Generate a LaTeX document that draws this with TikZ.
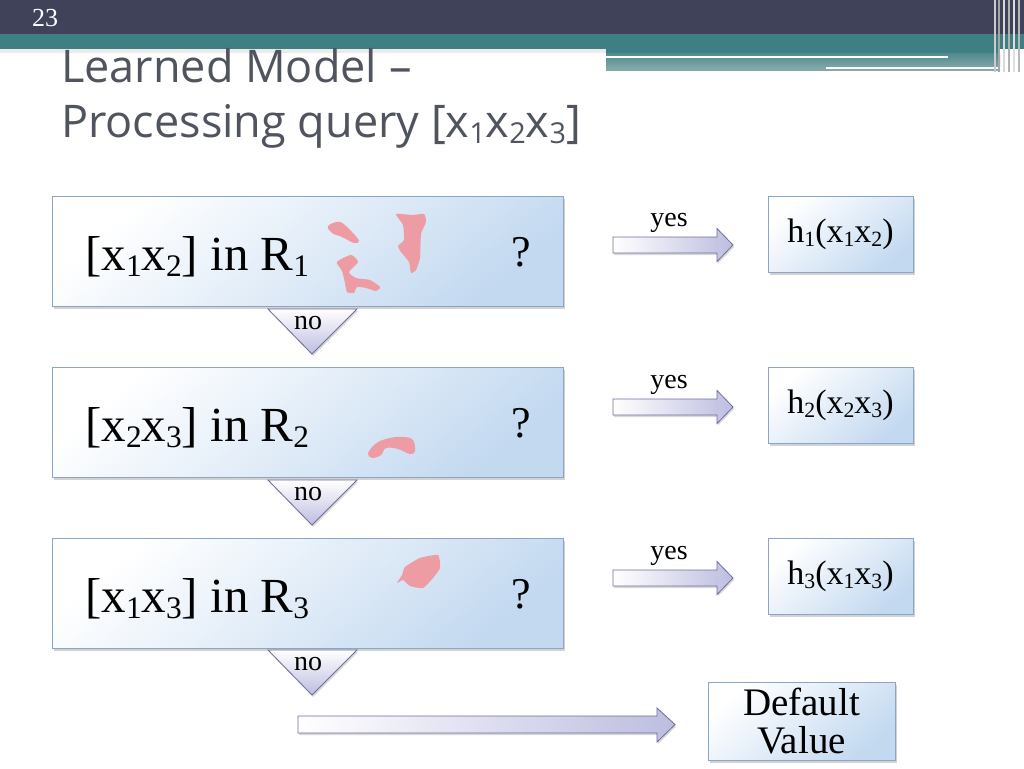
\documentclass[tikz,border=0pt]{standalone}
\usepackage{fontspec}
\usepackage{graphicx}
\setmainfont{Liberation Serif}
\newfontfamily\titlefont{Open Sans}
\usetikzlibrary{shadows}
\definecolor{barDark}{HTML}{40425A}
\definecolor{barTeal}{HTML}{3E7F84}
\definecolor{tealLight}{HTML}{86AAAC}
\definecolor{titleGray}{HTML}{50545E}
\definecolor{boxBlue}{HTML}{C3D9F0}
\definecolor{boxEdge}{HTML}{8AA6C4}
\definecolor{arrowFill}{HTML}{BDBDE0}
\definecolor{arrowEdge}{HTML}{6E6E9A}
\definecolor{blobPink}{HTML}{EE9CA4}
\newcommand{\sbs}[1]{\raisebox{-0.14em}{\scalebox{0.64}{#1}}}
\tikzset{
  bigbox/.style={draw=boxEdge, line width=1pt, top color=white, bottom color=boxBlue, shading angle=40,
    minimum width=511pt, minimum height=110pt, inner sep=0pt,
    drop shadow={shadow xshift=1.5pt, shadow yshift=-2.5pt, opacity=0.35}},
  smallbox/.style={draw=boxEdge, line width=0.8pt, top color=white, bottom color=boxBlue, shading angle=40,
    inner sep=0pt, font=\fontsize{34}{38}\selectfont,
    drop shadow={shadow xshift=1.5pt, shadow yshift=-2.5pt, opacity=0.35}},
  boxtext/.style={anchor=base west, inner sep=0pt, font=\fontsize{49}{56}\selectfont},
  qmark/.style={anchor=base west, inner sep=0pt, font=\fontsize{44}{50}\selectfont},
  smalllabel/.style={anchor=base, inner sep=0pt, font=\fontsize{28}{32}\selectfont},
  blockarrow/.style={draw=arrowEdge, line width=0.8pt, left color=white, right color=arrowFill,
    drop shadow={shadow xshift=1pt, shadow yshift=-2pt, opacity=0.3}},
  notri/.style={draw=arrowEdge, line width=0.8pt, top color=white, bottom color=arrowFill,
    drop shadow={shadow xshift=1pt, shadow yshift=-2pt, opacity=0.3}},
  blob/.style={fill=blobPink, draw=none},
}
\begin{document}
\begin{tikzpicture}[x=1pt, y=-1pt]
\useasboundingbox (0,0) rectangle (1024,768);
\fill[white] (0,0) rectangle (1024,768);
% header
\fill[barDark] (0,0) rectangle (1024,34);
\fill[barTeal] (0,34) rectangle (1024,49);
\fill[barTeal] (606,34) rectangle (1000,54);
\shade[top color=barTeal!70!tealLight, bottom color=tealLight] (606,54) rectangle (1000,70);
\fill[black, opacity=0.08] (0,49) rectangle (606,53);
\draw[white, line width=2.5pt] (606,57) -- (948,57);
\draw[white, line width=2.5pt] (826,68) -- (1005,68);
\foreach \xx/\cc in {994/gray!40, 998/gray!70, 1003/gray!30, 1008/gray!60, 1013/gray!25, 1018/gray!55}
  \fill[\cc] (\xx,0) rectangle (\xx+2,72);
\node[text=white, anchor=base west, inner sep=0pt, font=\fontsize{26}{28}\selectfont] (pgnum) at (32,27) {23};
% title
\node[text=titleGray, anchor=base west, inner sep=0pt, font=\titlefont\fontsize{45}{50}\selectfont] (title1) at (61,82) {Learned Model –};
\node[text=titleGray, anchor=base west, inner sep=0pt, font=\titlefont\fontsize{45}{50}\selectfont] (title2) at (61,137) {Processing query [x\sbs{1}x\sbs{2}x\sbs{3}]};
% big boxes
\node[bigbox] (b1) at (307.5,251) {};
\node[bigbox] (b2) at (307.5,422) {};
\node[bigbox] (b3) at (307.5,593) {};
\node[boxtext] (t1) at (85,270) {[x\sbs{1}x\sbs{2}] in R\sbs{1}};
\node[boxtext] (t2) at (85,441) {[x\sbs{2}x\sbs{3}] in R\sbs{2}};
\node[boxtext] (t3) at (85,612) {[x\sbs{1}x\sbs{3}] in R\sbs{3}};
\node[qmark] (q1) at (511,266) {?};
\node[qmark] (q2) at (511,437) {?};
\node[qmark] (q3) at (511,608) {?};
% blobs
\fill[blob] plot[smooth cycle, tension=0.6] coordinates {(328,226) (340,222) (352,232) (359,241) (354,243) (342,237) (332,233)};
\fill[blob] plot[smooth cycle, tension=0.4] coordinates {(337,262) (351,255) (358,262) (349,272) (356,278) (370,280) (380,287) (376,291) (366,288) (357,287) (354,293) (347,292) (345,283) (342,271)};
\fill[blob] plot[smooth cycle, tension=0.3] coordinates {(396,214) (412,215) (424,214) (426,222) (421,234) (420,258) (416,270) (411,273) (409,262) (401,252) (398,246) (404,240) (403,225)};
\fill[blob] plot[smooth cycle, tension=0.6] coordinates {(368,453) (378,442) (396,437) (412,439) (415,451) (410,454) (398,449) (386,448) (381,455) (372,458)};
\fill[blob] plot[smooth cycle, tension=0.3] coordinates {(405,567) (420,558) (438,555) (440,568) (433,578) (423,588) (410,586) (403,580) (397,583) (402,575)};
% no triangles
\foreach \r/\ty in {1/309, 2/480, 3/650} {
  \path[notri] (268,\ty) -- (357,\ty) -- (312,\ty+45) -- cycle;
  \node[smalllabel] (no\r) at (308,\ty+20) {no};
}
% yes arrows
\foreach \r/\cy in {1/245, 2/407, 3/578} {
  \path[blockarrow] (613,\cy-8) -- (717,\cy-8) -- (717,\cy-16.5) -- (733,\cy) -- (717,\cy+16.5) -- (717,\cy+8) -- (613,\cy+8) -- cycle;
  \node[smalllabel] (yes\r) at (669,\cy-19) {yes};
}
% h boxes
\node[smallbox, minimum width=145pt, minimum height=76pt] (h1) at (840.5,234) {h\sbs{1}(x\sbs{1}x\sbs{2})};
\node[smallbox, minimum width=145pt, minimum height=76pt] (h2) at (840.5,405) {h\sbs{2}(x\sbs{2}x\sbs{3})};
\node[smallbox, minimum width=145pt, minimum height=76pt] (h3) at (840.5,576) {h\sbs{3}(x\sbs{1}x\sbs{3})};
% bottom arrow
\path[blockarrow] (298,716) -- (657,716) -- (657,708) -- (675,724.5) -- (657,742) -- (657,733) -- (298,733) -- cycle;
% default box
\node[smallbox, minimum width=187pt, minimum height=78pt, align=center, font=\fontsize{39}{38}\selectfont] (dv) at (801.5,721) {Default\\Value};
\end{tikzpicture}
\end{document}
